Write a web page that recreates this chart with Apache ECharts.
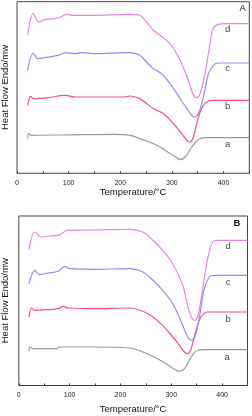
<!DOCTYPE html>
<html><head><meta charset="utf-8">
<script src="https://cdn.jsdelivr.net/npm/echarts@6/dist/echarts.min.js"></script>
<style>html,body{margin:0;padding:0;background:#fff}#c{width:252px;height:416px}</style>
</head><body><div id="c"></div>
<script>
// Panel A curves: [temperature °C, heat flow (arbitrary units)]
const aA = [[20.7,34.7],[23,39.7],[28.5,38],[100,38.5],[190,39],[219,38],[238,34.7],[271,28],[296.5,19.7],[309.5,15.7],[316,13.7],[325.6,16.3],[338.6,26.3],[351.4,33.7],[364,35.7],[450,35.7]];
const bA = [[20.7,68],[26.5,77],[31.6,74.7],[60.7,75.7],[93,78],[112,76.3],[209,76.3],[219,77.3],[238,74.7],[251,69.7],[264,64.7],[283.5,59.7],[303,49.7],[319,39.7],[329,33],[334,31.3],[341.7,36.3],[351.4,56.3],[361,68],[371,72.3],[380,73],[450,73]];
const cA = [[20.7,103],[31.6,120.3],[40,114.7],[54,115.7],[80,118],[96,120.7],[112,119.7],[125,120.7],[151,119.7],[209,120.7],[219,120.7],[238,118],[251,111.3],[264,104.7],[280,99.7],[296.5,89.7],[316,74.7],[329,64.7],[338.6,58],[343,56.3],[351.4,59.7],[361,76.3],[371,99.7],[380.5,108],[390,110.3],[450,110.3]];
const dA = [[20.7,138],[31.6,159.7],[42.6,151.3],[54,153.7],[80,155.3],[96,159],[109,158],[150,158],[209,159],[219,159],[238,158],[251,151.3],[264,143],[277,138],[296.5,129.7],[316,113],[332,93],[341.7,78],[348,75.7],[354.7,79.7],[364,99.7],[374,129.7],[380,144.7],[390,149],[406,149.7],[450,149.7]];
// Panel B curves
const aB = [[20,34.2],[22,38.5],[28.4,36.8],[74.3,36.8],[80.8,38.5],[150,38.5],[218,37.5],[244,33.5],[270,27.5],[290,21.8],[306,16.2],[316,14.2],[326,16.8],[339,28.5],[352,35.2],[365,35.8],[450,35.8]];
const bB = [[20,68.5],[25.2,77.5],[30.4,75.2],[58,75.8],[77.5,76.8],[87,79.2],[97,77.5],[150,76.8],[218,77.5],[244,74.2],[264,68.5],[283,60.2],[303,48.5],[316,40.2],[326,33.5],[332.4,31.8],[339,36.8],[348.8,55.2],[358.6,68.5],[371.6,73.5],[380,73.5],[450,73.5]];
const cB = [[20,101.8],[31.8,115.2],[39.6,110.8],[58,112.5],[77.5,114.2],[90.6,119.2],[100,116.8],[150,116.2],[218,116.8],[244,113.5],[264,105.2],[283,95.2],[303,81.8],[322.5,60.2],[332.4,48.5],[339,45.2],[345.5,47.5],[355,66.8],[365,96.8],[375,108.5],[384.7,110.2],[450,110.2]];
const dB = [[20,136.2],[31.8,153.5],[43.5,148.5],[58,149.5],[77.5,150.2],[87,152.8],[94,155.2],[150,155.5],[218,156.2],[244,153.5],[264,145.2],[283,135.2],[303,121.8],[322.5,100.2],[335.7,73.5],[345.5,65.2],[352,68.5],[361.8,96.8],[371.6,126.8],[381.4,143.5],[391,145.2],[450,145.2]];
// Curve labels
const labelsA = [[408,144,'d'],[408,104.7,'c'],[408,67,'b'],[408,28.7,'a']];
const labelsB = [[412,139.5,'d'],[412,102.8,'c'],[412,66.2,'b'],[410,27.8,'a']];
const xTicks = [0,100,200,300,400];
const colors = {a:'#8f9f96', b:'#f0508c', c:'#8c8fec', d:'#e884e4'};

const chart = echarts.init(document.getElementById('c'), null, {renderer:'canvas'});
const font = 'Arial, "Liberation Sans", sans-serif';
function xAxis(gi){
  return {type:'value', gridIndex:gi, min:0, max:450, interval:50,
    axisLine:{show:false}, splitLine:{show:false},
    axisTick:{show:true, inside:true, length:2, lineStyle:{color:'#333'}},
    axisLabel:{fontSize:7, color:'#222', margin:6, fontFamily:font,
      formatter:v=> xTicks.includes(v)? String(v):''},
    name:'Temperature/°C', nameLocation:'middle', nameGap:gi===0?14:18.5,
    nameTextStyle:{fontSize:9.5, color:'#111', fontFamily:font}};
}
function yAxis(gi,max){
  return {type:'value', gridIndex:gi, min:0, max:max, show:true,
    axisLine:{show:false}, axisTick:{show:false}, axisLabel:{show:false}, splitLine:{show:false},
    name:'Heat Flow Endo/mw', nameLocation:'middle', nameGap:gi===0?6.5:8.5, nameRotate:90,
    nameTextStyle:{fontSize:9.5, color:'#111', fontFamily:font}};
}
function line(data, color, gi){
  return {type:'line', xAxisIndex:gi, yAxisIndex:gi, data:data, showSymbol:false, smooth:0.35,
    lineStyle:{width:1.2, color:color}, silent:true, animation:false};
}
function lab(data, gi){
  return {type:'scatter', xAxisIndex:gi, yAxisIndex:gi, data:data, symbolSize:0, silent:true, animation:false,
    label:{show:true, position:'inside', formatter:p=>p.value[2], fontSize:9.5, color:'#111', fontFamily:font}};
}
chart.setOption({
  animation:false,
  title:[
    {text:'A', left:239.5, top:3.5, padding:0, textStyle:{fontSize:9.5, color:'#111', fontWeight:'normal', fontFamily:font}},
    {text:'B', left:233.5, top:218.5, padding:0, textStyle:{fontSize:9.5, color:'#111', fontWeight:'bold', fontFamily:font}}
  ],
  grid:[
    {left:17, right:2.7, top:1.7, height:171.6, show:true, borderColor:'#444', borderWidth:1, containLabel:false, outerBoundsMode:'none'},
    {left:18.8, right:4.5, top:216, height:169.5, show:true, borderColor:'#444', borderWidth:1, containLabel:false, outerBoundsMode:'none'}
  ],
  xAxis:[xAxis(0), xAxis(1)],
  yAxis:[yAxis(0,171.6), yAxis(1,169.5)],
  series:[
    line(aA,colors.a,0), line(bA,colors.b,0), line(cA,colors.c,0), line(dA,colors.d,0),
    line(aB,colors.a,1), line(bB,colors.b,1), line(cB,colors.c,1), line(dB,colors.d,1),
    lab(labelsA,0), lab(labelsB,1)
  ]
});
</script></body></html>
